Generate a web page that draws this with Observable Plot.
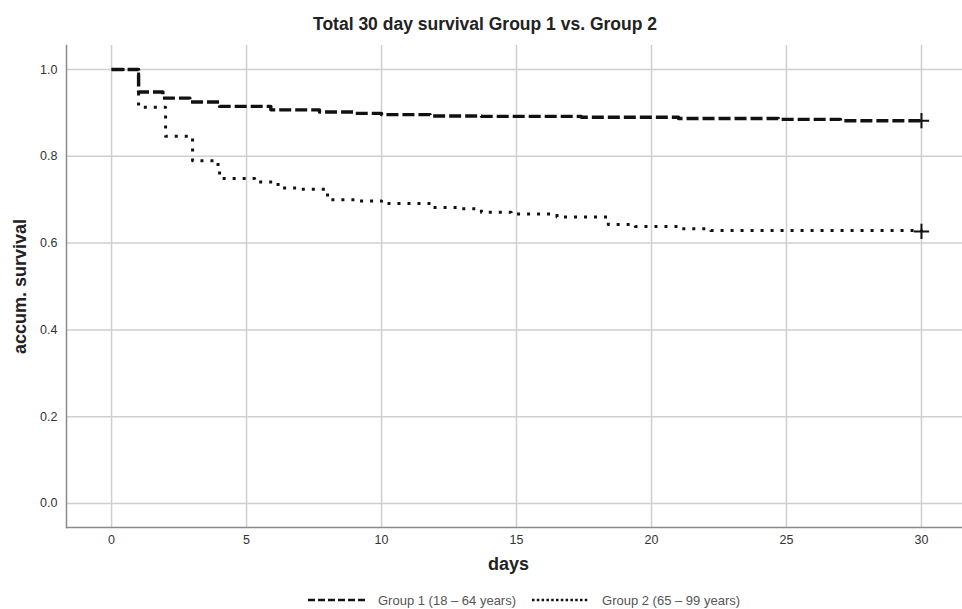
<!DOCTYPE html>
<html>
<head>
<meta charset="utf-8">
<script src="https://cdn.jsdelivr.net/npm/d3@7"></script>
<script src="https://cdn.jsdelivr.net/npm/@observablehq/plot@0.6"></script>
<style>
  body { margin: 0; background: #fff; font-family: "Liberation Sans", Arial, sans-serif; }
  #wrap { width: 962px; position: relative; height: 609px; }
  #title { height: 36px; line-height: 48px; text-align: center; font-weight: bold; font-size: 17.5px; color: #222; padding-left: 8px; box-sizing: border-box; }
  #legend { position: absolute; left: 308px; top: 592px; height: 16px; display: flex; align-items: center; font-size: 13px; color: #555; white-space: nowrap; }
  #legend .item { display: flex; align-items: center; margin-right: 16px; }
  #legend svg { margin-right: 13px; }
</style>
</head>
<body>
<div id="wrap">
  <div id="title">Total 30 day survival Group 1 vs. Group 2</div>
  <div id="chart"></div>
  <div id="legend"></div>
</div>
<script>
const seriesNames = ["Group 1 (18 – 64 years)", "Group 2 (65 – 99 years)"];
const days1 = [0, 1, 1.9, 2.9, 4, 5.9, 7.7, 9, 10, 11.8, 13.7, 17.4, 21, 24.7, 27, 30];
const surv1 = [1, 0.948, 0.934, 0.925, 0.915, 0.907, 0.902, 0.899, 0.896, 0.893, 0.892, 0.890, 0.887, 0.885, 0.882, 0.882];
const days2 = [0, 1, 2, 3, 3.8, 4, 5.3, 6, 6.3, 7, 8, 9.2, 10, 11.9, 12.8, 13.7, 14.8, 16.5, 18.4, 19.4, 21.1, 22.2, 30];
const surv2 = [1, 0.913, 0.846, 0.79, 0.781, 0.749, 0.741, 0.735, 0.727, 0.724, 0.700, 0.697, 0.691, 0.682, 0.679, 0.671, 0.667, 0.660, 0.643, 0.638, 0.633, 0.629, 0.627];
const xTicks = [0, 5, 10, 15, 20, 25, 30];
const yTicks = [0, 0.2, 0.4, 0.6, 0.8, 1.0];

const g1 = days1.map((d, i) => ({day: d, s: surv1[i]}));
const g2 = days2.map((d, i) => ({day: d, s: surv2[i]}));
const censor = [g1[g1.length - 1], g2[g2.length - 1]];

const chart = Plot.plot({
  width: 962,
  height: 540,
  marginTop: 9,
  marginBottom: 49,
  marginLeft: 66,
  marginRight: 0,
  style: {fontFamily: "Liberation Sans, Arial, sans-serif", fontSize: "13px", color: "#333"},
  x: {domain: [-1.67, 31.52], ticks: xTicks, label: null},
  y: {domain: [-0.0553, 1.0553], ticks: yTicks, label: null, tickFormat: d3.format(".1f")},
  marks: [
    Plot.gridX(xTicks, {stroke: "#cfcfcf", strokeOpacity: 1, strokeWidth: 1.5}),
    Plot.gridY(yTicks, {stroke: "#cfcfcf", strokeOpacity: 1, strokeWidth: 1.5}),
    Plot.axisX(xTicks, {tickSize: 0, tickPadding: 8, label: null, fontSize: 12.5}),
    Plot.axisY(yTicks, {tickSize: 0, tickPadding: 9, label: null, tickFormat: d3.format(".1f"), fontSize: 12.5}),
    Plot.frame({anchor: "left", stroke: "#8a8a8a", strokeWidth: 1.5}),
    Plot.frame({anchor: "bottom", stroke: "#8a8a8a", strokeWidth: 1.5}),
    Plot.line(g2, {x: "day", y: "s", curve: "step-after", stroke: "#111", strokeWidth: 3, strokeDasharray: "3,7", strokeLinecap: "butt"}),
    Plot.line(g1, {x: "day", y: "s", curve: "step-after", stroke: "#111", strokeWidth: 3.4, strokeDasharray: "12,4", strokeLinecap: "butt"}),
    Plot.dot(censor, {x: "day", y: "s", symbol: "plus", r: 5, stroke: "#111", strokeWidth: 2}),
    Plot.text(["days"], {frameAnchor: "bottom", dx: -6, dy: 37, lineAnchor: "middle", textAnchor: "middle", fontWeight: "bold", fontSize: 18, fill: "#222"}),
    Plot.text(["accum. survival"], {frameAnchor: "left", dx: -46, rotate: -90, lineAnchor: "middle", textAnchor: "middle", fontWeight: "bold", fontSize: 18, fill: "#222"})
  ]
});
document.getElementById("chart").appendChild(chart);

// legend
const legend = document.getElementById("legend");
const dashes = ["7,3", "2.5,2.3"];
const widths = [57, 57];
seriesNames.forEach((name, i) => {
  const item = document.createElement("div");
  item.className = "item";
  const w = widths[i];
  item.innerHTML = `<svg width="${w}" height="6"><line x1="0" x2="${w}" y1="3" y2="3" stroke="#111" stroke-width="2.5" stroke-dasharray="${dashes[i]}"/></svg><span>${name}</span>`;
  legend.appendChild(item);
});
</script>
</body>
</html>
